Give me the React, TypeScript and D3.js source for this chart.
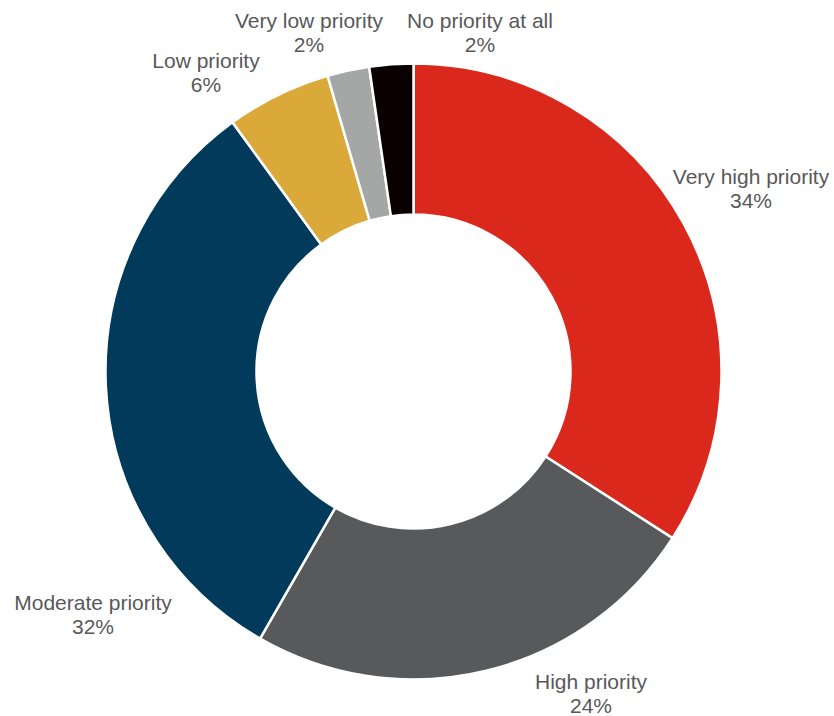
import React from "react";
import * as d3 from "d3";

const categories = [
  "Very high priority",
  "High priority",
  "Moderate priority",
  "Low priority",
  "Very low priority",
  "No priority at all",
];
const values = [34.1, 24.2, 31.7, 5.5, 2.2, 2.3];
const colors = ["#DA291C", "#58595B", "#023A5C", "#DBA93A", "#A5A6A6", "#0A0000"];

// layout (label block centres relative to the doughnut centre)
const labelOffsets: [number, number][] = [
  [337.5, -183],
  [177.5, 322],
  [-320.5, 243],
  [-207.5, -299],
  [-104.5, -339],
  [66.5, -339],
];

const W = 834;
const H = 716;
const CX = 413.5;
const CY = 371.5;
const R_OUT = 308;
const R_IN = 157;

export default function App() {
  const pie = d3.pie<number>().sort(null).value((d) => d)(values);
  const arc = d3.arc<d3.PieArcDatum<number>>().innerRadius(R_IN).outerRadius(R_OUT);
  const total = d3.sum(values);
  return (
    <svg
      width={W}
      height={H}
      style={{ position: "absolute", left: 0, top: 0, background: "#fff" }}
      fontFamily="'Liberation Sans', Arial, sans-serif"
    >
      <g transform={`translate(${CX},${CY})`}>
        {pie.map((p, i) => (
          <path
            key={categories[i]}
            d={arc(p) || ""}
            fill={colors[i]}
            stroke="#fff"
            strokeWidth={2.5}
            strokeLinejoin="miter"
          />
        ))}
        {pie.map((p, i) => {
          const [dx, dy] = labelOffsets[i];
          return (
            <text key={"l" + i} textAnchor="middle" fill="#595959" fontSize={21}>
              <tspan x={dx} y={dy - 4.5}>
                {categories[i]}
              </tspan>
              <tspan x={dx} y={dy + 19.5}>
                {Math.round((p.data / total) * 100)}%
              </tspan>
            </text>
          );
        })}
      </g>
    </svg>
  );
}
